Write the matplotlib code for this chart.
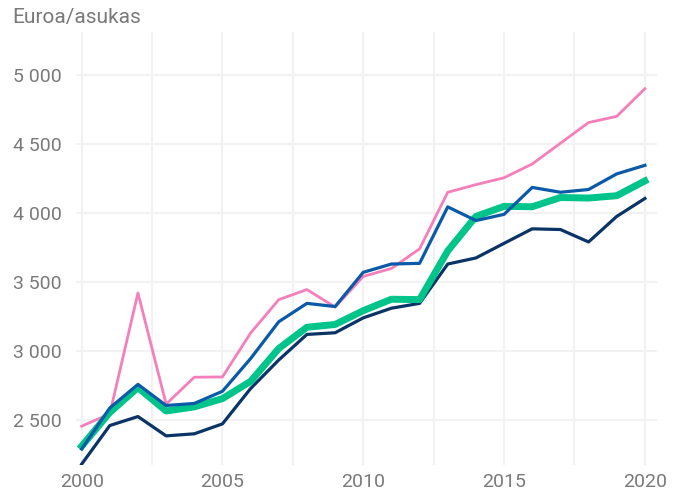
import numpy as np
import matplotlib
matplotlib.use('Agg')
from matplotlib import pyplot as plt
from matplotlib.ticker import FuncFormatter, MultipleLocator

plt.rcParams['font.family'] = ['Roboto', 'DejaVu Sans']

# Data (euro per inhabitant)
years = list(range(2000, 2021))
pink = [2455, 2545, 3420, 2615, 2810, 2812, 3130, 3372, 3445, 3318, 3540, 3598,
        3740, 4150, 4205, 4255, 4355, 4505, 4655, 4700, 4900]
blue = [2290, 2587, 2758, 2605, 2620, 2708, 2945, 3212, 3345, 3322, 3570, 3630,
        3635, 4044, 3945, 3990, 4185, 4150, 4170, 4283, 4345]
navy = [2180, 2460, 2525, 2385, 2400, 2472, 2728, 2935, 3120, 3132, 3240, 3310,
        3345, 3630, 3674, 3780, 3885, 3880, 3790, 3975, 4105]
green = [2310, 2555, 2735, 2565, 2595, 2655, 2780, 3018, 3172, 3192, 3292, 3375,
         3372, 3725, 3975, 4048, 4045, 4112, 4108, 4125, 4232]

C_PINK = '#f47fbb'
C_BLUE = '#0a5aa8'
C_NAVY = '#0a3466'
C_GREEN = '#00c48a'
C_TEXT = '#7a7a7a'


def main():
    fig = plt.figure(figsize=(6.86, 4.97), dpi=100)
    ax = fig.add_axes([76 / 686, 1 - 465 / 497, (657 - 76) / 686, (465 - 32) / 497])

    ax.plot(years, pink, color=C_PINK, lw=2.0)
    ax.plot(years, navy, color=C_NAVY, lw=2.3)
    ax.plot(years, green, color=C_GREEN, lw=5.0)
    ax.plot(years, blue, color=C_BLUE, lw=2.3)

    ax.set_xlim(1999.8, 2020.43)
    ax.set_ylim(2174, 5311)

    ax.xaxis.set_major_locator(MultipleLocator(5))
    ax.xaxis.set_minor_locator(MultipleLocator(2.5))
    ax.yaxis.set_major_locator(MultipleLocator(500))
    ax.yaxis.set_major_formatter(FuncFormatter(lambda v, p: f'{int(v):,}'.replace(',', ' ')))

    ax.grid(True, which='both', axis='x', color='#f2f2f2', lw=1.5)
    ax.grid(True, which='major', axis='y', color='#f2f2f2', lw=1.5)
    ax.set_axisbelow(True)

    for s in ax.spines.values():
        s.set_visible(False)
    ax.tick_params(which='both', length=0, labelsize=14, labelcolor=C_TEXT)
    ax.tick_params(axis='y', pad=10)
    ax.tick_params(axis='x', pad=6)

    fig.text(12 / 686, 1 - 17 / 497, 'Euroa/asukas', fontsize=15, color=C_TEXT,
             ha='left', va='center')

    fig.savefig('out.png', dpi=100)


if __name__ == "__main__":
    main()
